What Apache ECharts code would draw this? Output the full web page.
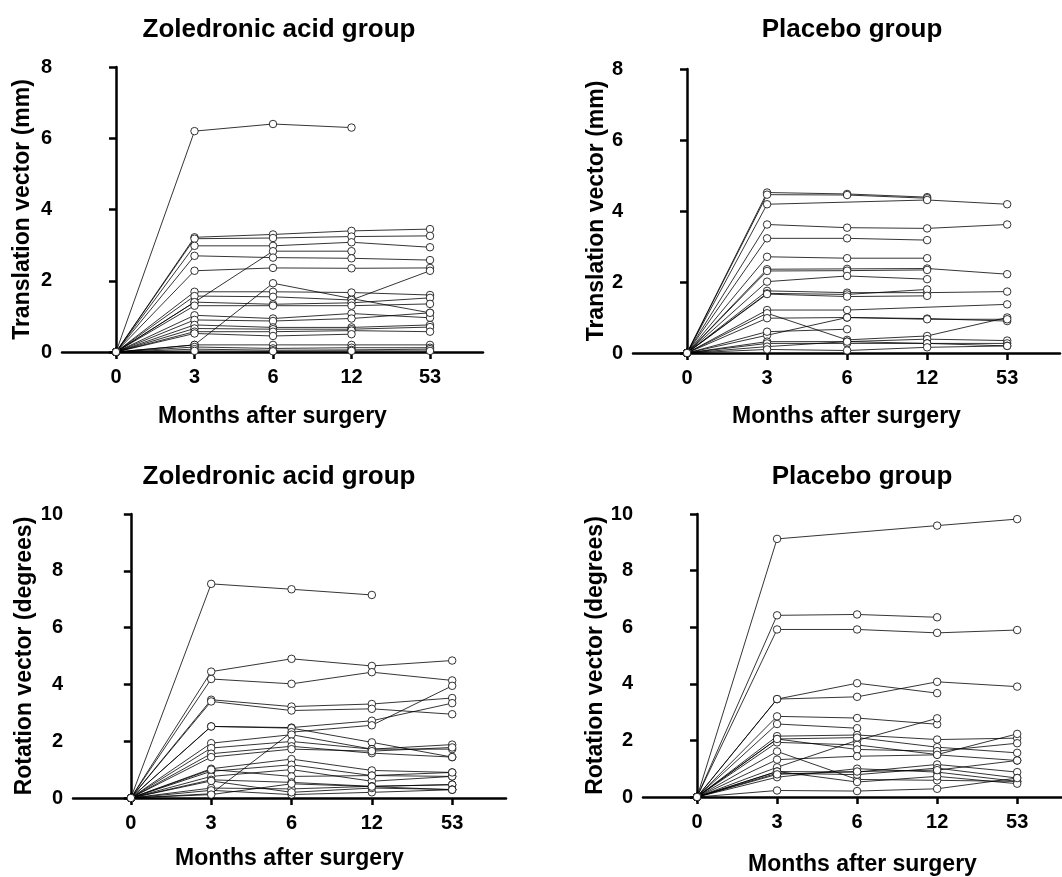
<!DOCTYPE html>
<html>
<head>
<meta charset="utf-8">
<script src="https://cdn.jsdelivr.net/npm/echarts@6/dist/echarts.min.js"></script>
<style>
    html, body {margin: 0; padding: 0; background: #fff;}
    #chart {width: 1062px; height: 877px;}
</style>
</head>
<body>
<div id="chart"></div>
<script>
// time points (categories on the x axis)
const months = ['0', '3', '6', '12', '53'];

// one row per patient, values at 0, 3, 6, 12, 53 months (null = missing)
const zolTranslation = [
    [0, 6.2, 6.4, 6.3, null],
    [0, 3.22, 3.3, 3.4, 3.45],
    [0, 3.18, 3.2, 3.24, 3.26],
    [0, 2.98, 2.98, 3.08, 2.94],
    [0, 1.4, 2.83, 2.83, null],
    [0, 2.7, 2.65, 2.63, 2.58],
    [0, 2.28, 2.36, 2.35, 2.36],
    [0, 0.2, 1.93, 1.5, 1.1],
    [0, 1.69, 1.69, 1.67, 1.6],
    [0, 1.57, 1.55, 1.46, 2.28],
    [0, 1.4, 1.34, 1.38, 1.52],
    [0, 1.3, 1.3, 1.3, 1.35],
    [0, 1.03, 0.94, 1.08, 0.96],
    [0, 0.9, 0.87, 0.94, 1.1],
    [0, 0.76, 0.69, 0.69, 0.76],
    [0, 0.66, 0.64, 0.64, 0.7],
    [0, 0.57, 0.57, 0.6, 0.57],
    [0, 0.52, 0.45, 0.5, null],
    [0, 0.2, 0.2, 0.2, 0.2],
    [0, 0.14, 0.1, 0.12, 0.12],
    [0, 0.08, 0.05, 0.06, 0.08],
    [0, 0.03, 0.02, 0.03, 0.03]
];

const placTranslation = [
    [0, 4.52, 4.48, 4.39, null],
    [0, 4.46, 4.45, 4.36, null],
    [0, 4.19, null, 4.31, 4.19],
    [0, 3.62, 3.53, 3.51, 3.62],
    [0, 3.23, 3.23, 3.18, null],
    [0, 2.71, 2.67, 2.67, null],
    [0, 2.36, 2.37, 2.38, 2.22],
    [0, 2.31, 2.32, 2.34, null],
    [0, 2.01, 2.17, 2.08, null],
    [0, 1.75, 1.7, 1.7, 1.73],
    [0, 1.68, 1.65, 1.79, null],
    [0, 1.66, 1.59, 1.61, null],
    [0, 1.21, 1.21, null, 1.37],
    [0, 1.12, 0.37, 0.48, 1.0],
    [0, 0.98, 1.0, 0.97, 0.9],
    [0, 0.5, 1.0, 0.95, 0.95],
    [0, 0.6, 0.67, null, null],
    [0, 0.32, 0.32, 0.39, 0.35],
    [0, 0.27, 0.27, 0.27, 0.27],
    [0, 0.18, 0.32, 0.27, 0.2],
    [0, 0.1, 0.07, 0.16, 0.2]
];

const zolRotation = [
    [0, 7.54, 7.35, 7.15, null],
    [0, 4.45, 4.9, 4.65, 4.84],
    [0, 4.19, 4.02, 4.43, 4.14],
    [0, 3.46, 3.22, 3.31, 3.52],
    [0, 3.4, 3.08, 3.14, 2.95],
    [0, 2.52, 2.48, 2.72, 3.34],
    [0, 2.52, 2.46, 1.96, 1.44],
    [0, 0.15, 2.32, 2.56, 3.95],
    [0, 1.93, 2.23, 1.72, 1.88],
    [0, 1.76, 1.99, 1.72, 1.72],
    [0, 1.56, 1.82, 1.58, 1.44],
    [0, 1.44, 1.72, 1.65, 1.78],
    [0, 1.03, 1.37, 0.97, 0.9],
    [0, 0.94, 1.17, 0.79, 0.76],
    [0, 0.76, 1.0, 0.59, 0.76],
    [0, 1.0, 0.76, 0.79, 0.9],
    [0, 0.64, 0.55, 0.41, 0.47],
    [0, 0.35, 0.32, 0.41, 0.47],
    [0, 0.27, 0.12, 0.2, 0.29],
    [0, 0.6, 0.2, 0.35, 0.3],
    [0, 0.12, 0.5, 0.4, 0.29]
];

const placRotation = [
    [0, 9.12, null, 9.59, 9.82],
    [0, 6.42, 6.45, 6.35, null],
    [0, 5.92, 5.92, 5.8, 5.9],
    [0, 3.46, 4.02, 3.67, null],
    [0, 3.46, 3.54, 4.07, 3.9],
    [0, 2.85, 2.79, 2.57, null],
    [0, 2.58, 2.43, null, null],
    [0, 1.05, 2.0, 2.78, null],
    [0, 2.15, 2.19, 2.03, 2.08],
    [0, 2.05, 2.1, 1.76, 1.56],
    [0, 1.93, 1.84, 1.5, 2.23],
    [0, 2.05, 1.68, 1.62, 1.9],
    [0, 1.61, 0.62, 0.59, 0.55],
    [0, 1.32, 1.44, 1.49, 1.29],
    [0, 0.9, 0.88, 1.15, 0.88],
    [0, 0.84, 0.79, 1.02, 0.67],
    [0, 0.7, 1.0, 0.88, 0.55],
    [0, 0.9, 0.53, 0.73, 0.47],
    [0, 0.23, 0.21, 0.29, 0.67],
    [0, 0.8, 0.9, 0.95, 1.29]
];

const titles = ['Zoledronic acid group', 'Placebo group', 'Zoledronic acid group', 'Placebo group'];
const yNames = ['Translation vector (mm)', 'Translation vector (mm)', 'Rotation vector (degrees)', 'Rotation vector (degrees)'];
const xName = 'Months after surgery';

const font = '"Liberation Sans", Arial, Helvetica, sans-serif';

// panel geometry
const panels = [
    {data: zolTranslation, grid: {left: 62, right: 579, top: 67, bottom: 525}, xMin: -0.688, xMax: 4.675, yMax: 8, titleX: 274, titleY: 12, yGap: 28, xGap: 53, xShift: 0},
    {data: placTranslation, grid: {left: 633, right: 2, top: 69, bottom: 524}, xMin: -0.675, xMax: 4.66, yMax: 8, titleX: 847, titleY: 12, yGap: 24, xGap: 52, xShift: 0},
    {data: zolRotation, grid: {left: 73, right: 556, top: 514, bottom: 79}, xMin: -0.72, xMax: 4.67, yMax: 10, titleX: 274, titleY: 459, yGap: 37, xGap: 49, xShift: 0},
    {data: placRotation, grid: {left: 643, right: 0, top: 514, bottom: 79}, xMin: -0.675, xMax: 4.56, yMax: 10, titleX: 857, titleY: 459, yGap: 34, xGap: 56, xShift: 20}
];

const labelStyle = {color: '#000', fontFamily: font, fontWeight: 'bold', fontSize: 20};
const axisLineStyle = {color: '#000', width: 2.5};

const option = {
    animation: false,
    backgroundColor: '#fff',
    title: [],
    grid: [],
    xAxis: [],
    yAxis: [],
    series: []
};

panels.forEach((p, i) => {
    option.title.push({
        text: titles[i],
        left: p.titleX,
        top: p.titleY,
        textAlign: 'center',
        textStyle: {color: '#000', fontFamily: font, fontWeight: 'bold', fontSize: 26}
    });
    option.grid.push(p.grid);
    option.xAxis.push({
        type: 'value',
        gridIndex: i,
        min: p.xMin,
        max: p.xMax,
        name: xName,
        nameLocation: 'middle',
        nameGap: p.xGap,
        nameTextStyle: {color: '#000', fontFamily: font, fontWeight: 'bold', fontSize: 23, padding: [0, 0, 0, p.xShift]},
        axisLine: {lineStyle: axisLineStyle},
        axisTick: {length: 7, lineStyle: axisLineStyle, customValues: [0, 1, 2, 3, 4]},
        axisLabel: Object.assign({margin: 15, customValues: [0, 1, 2, 3, 4], formatter: v => months[v]}, labelStyle),
        splitLine: {show: false}
    });
    option.yAxis.push({
        type: 'value',
        gridIndex: i,
        min: 0,
        max: p.yMax,
        interval: 2,
        name: yNames[i],
        nameLocation: 'middle',
        nameGap: p.yGap,
        nameTextStyle: {color: '#000', fontFamily: font, fontWeight: 'bold', fontSize: 23},
        axisLine: {show: true, lineStyle: axisLineStyle},
        axisTick: {show: true, length: 7, lineStyle: axisLineStyle},
        axisLabel: Object.assign({margin: 10}, labelStyle),
        splitLine: {show: false}
    });
    p.data.forEach(row => {
        option.series.push({
            type: 'line',
            xAxisIndex: i,
            yAxisIndex: i,
            data: row.map((v, k) => [k, v]),
            connectNulls: true,
            symbol: 'circle',
            symbolSize: 7.5,
            showAllSymbol: true,
            lineStyle: {color: '#000', width: 0.8},
            itemStyle: {color: '#fff', borderColor: '#000', borderWidth: 0.8},
            silent: true,
            z: 3
        });
    });
});

const myChart = echarts.init(document.getElementById('chart'));
myChart.setOption(option);
</script>
</body>
</html>
